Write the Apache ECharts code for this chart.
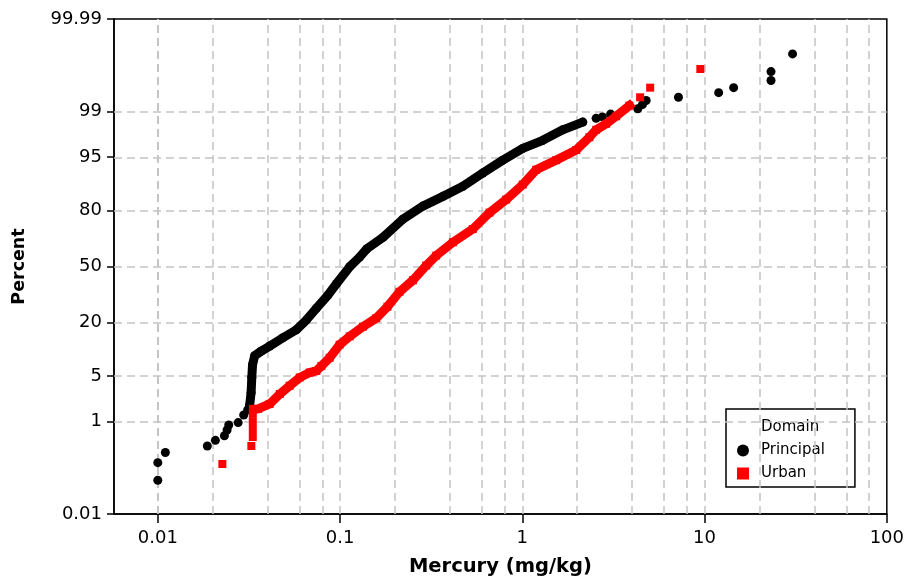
<!DOCTYPE html>
<html>
<head>
<meta charset="utf-8">
<script src="https://cdn.jsdelivr.net/npm/echarts@6/dist/echarts.min.js"></script>
<style>
html,body{margin:0;padding:0;background:#fff;}
#chart{width:907px;height:582px;}
</style>
</head>
<body>
<div id="chart"></div>
<script>
// ---- data: [mercury mg/kg, cumulative percent] ----
const principalLow = [[0.01,0.066],[0.01,0.16],[0.011,0.26],[0.0187,0.35],[0.0207,0.45],[0.0232,0.55],[0.024,0.70],[0.0245,0.86],[0.0276,0.95],[0.0296,1.28],[0.0311,1.55]];
const principalRun = [[0.0319,1.84],[0.0325,2.9],[0.0328,4.8],[0.0331,7.0],[0.034,9.0],[0.037,10.2],[0.0411,11.6],[0.0486,14.2],[0.0576,17.1],[0.0654,21.1],[0.0741,26.5],[0.0855,33.2],[0.0958,39.9],[0.113,49.9],[0.128,55.6],[0.140,60.4],[0.172,66.9],[0.221,76.1],[0.285,81.8],[0.367,85.4],[0.472,88.6],[0.607,92.0],[0.782,94.5],[1.006,96.2],[1.295,97.1],[1.667,98.0],[2.146,98.5]];
const principalHigh = [[2.54,98.7],[2.75,98.77],[3.05,98.9],[4.30,99.11],[4.56,99.25],[4.78,99.37],[7.19,99.45],[11.95,99.55],[14.44,99.64],[23.15,99.74],[23.15,99.83],[30.4,99.93]];
const urbanLow = [[0.0226,0.15],[0.0326,0.35],[0.0332,0.52],[0.0332,0.73],[0.0332,1.01],[0.0332,1.38]];
const urbanRun = [[0.0336,1.60],[0.0355,1.62],[0.0411,1.95],[0.0467,2.77],[0.0529,3.66],[0.0601,4.77],[0.0681,5.55],[0.0741,5.84],[0.079,6.76],[0.0877,8.52],[0.0995,12.0],[0.113,14.7],[0.1335,18.3],[0.158,21.9],[0.182,27.3],[0.212,35.2],[0.251,41.8],[0.297,50.6],[0.337,56.5],[0.416,64.2],[0.535,71.3],[0.661,79.1],[0.816,84.3],[1.006,89.1],[1.192,92.7],[1.534,94.5],[1.975,96.0],[2.335,97.4],[2.542,98.0],[2.884,98.4],[3.272,98.8],[3.870,99.22]];
const urbanHigh = [[4.43,99.45],[5.03,99.64],[9.48,99.85]];

const yTickPercents = [0.01, 1, 5, 20, 50, 80, 95, 99, 99.99];
const yTickLabels = ['0.01','1','5','20','50','80','95','99','99.99'];
const yGridPercents = [1, 5, 20, 50, 80, 95, 99];
const xGridValues = [0.006,0.008,0.01,0.02,0.04,0.06,0.08,0.1,0.2,0.4,0.6,0.8,1,2,4,6,8,10,20,40,60,80];
const xMin = 0.00575, xMax = 100;

// normal-probability (probit) transform for the percent axis
function probit(p){
  const a=[-3.969683028665376e+01,2.209460984245205e+02,-2.759285104469687e+02,1.383577518672690e+02,-3.066479806614716e+01,2.506628277459239e+00];
  const b=[-5.447609879822406e+01,1.615858368580409e+02,-1.556989798598866e+02,6.680131310152283e+01,-1.328068155288572e+01];
  const c=[-7.784894002430293e-03,-3.223964580411365e-01,-2.400758277161838e+00,-2.549732539343734e+00,4.374664141464968e+00,2.938163982698783e+00];
  const d=[7.784695709041462e-03,3.224671290700398e-01,2.445134137142996e+00,3.754408661907416e+00];
  const pl=0.02425, ph=1-pl; let q,r;
  if(p<pl){q=Math.sqrt(-2*Math.log(p));return (((((c[0]*q+c[1])*q+c[2])*q+c[3])*q+c[4])*q+c[5])/((((d[0]*q+d[1])*q+d[2])*q+d[3])*q+1);}
  if(p<=ph){q=p-0.5;r=q*q;return (((((a[0]*r+a[1])*r+a[2])*r+a[3])*r+a[4])*r+a[5])*q/(((((b[0]*r+b[1])*r+b[2])*r+b[3])*r+b[4])*r+1);}
  q=Math.sqrt(-2*Math.log(1-p));return -(((((c[0]*q+c[1])*q+c[2])*q+c[3])*q+c[4])*q+c[5])/((((d[0]*q+d[1])*q+d[2])*q+d[3])*q+1);
}
const toZ = pct => probit(pct/100);
const conv = arr => arr.map(([x,p]) => [x, toZ(p)]);
const yTickZ = yTickPercents.map(toZ);
const yMin = toZ(0.01), yMax = toZ(99.99);

const FONT = 'DejaVu Sans';
const chart = echarts.init(document.getElementById('chart'), null, {renderer:'canvas'});
const option = {
  animation: false,
  backgroundColor: '#fff',
  grid: {left:114, right:19, top:19, bottom:66.5, show:true, borderColor:'#000', borderWidth:1.5, backgroundColor:'transparent'},
  xAxis: {
    type:'log', logBase:10, min:xMin, max:xMax,
    name:'Mercury (mg/kg)', nameLocation:'middle', nameGap:43,
    nameTextStyle:{fontFamily:FONT, fontSize:19.5, fontWeight:'bold', color:'#000'},
    axisLine:{show:true, onZero:false, lineStyle:{color:'#000', width:1.5}},
    axisTick:{show:true, length:9, lineStyle:{color:'#000', width:1.5}},
    axisLabel:{show:true, showMinLabel:false, margin:15, fontFamily:FONT, fontSize:18, color:'#000',
      formatter: v => { const e = Math.log10(v); if (Math.abs(e-Math.round(e))>1e-6) return ''; return String(+v.toPrecision(6)); }},
    splitLine:{show:false}, minorTick:{show:false}, minorSplitLine:{show:false}
  },
  yAxis: {
    type:'value', min:yMin, max:yMax,
    name:'Percent', nameLocation:'middle', nameGap:86, nameRotate:90,
    nameTextStyle:{fontFamily:FONT, fontSize:17.5, fontWeight:'bold', color:'#000'},
    axisLine:{show:true, onZero:false, lineStyle:{color:'#000', width:1.5}},
    axisTick:{show:true, length:7, customValues:yTickZ, lineStyle:{color:'#000', width:1.5}},
    axisLabel:{show:true, margin:12, customValues:yTickZ, fontFamily:FONT, fontSize:18, color:'#000',
      formatter: v => { let bi=0, bd=1e9; yTickZ.forEach((z,i)=>{const dd=Math.abs(z-v); if(dd<bd){bd=dd;bi=i;}}); return yTickLabels[bi]; }},
    splitLine:{show:false}
  },
  legend: {
    left:726, top:409, orient:'vertical', selectedMode:false,
    padding:[11,30,6,4], itemWidth:26, itemHeight:12, itemGap:8,
    symbolKeepAspect:true,
    borderColor:'#000', borderWidth:1.5, backgroundColor:'#fff',
    textStyle:{fontFamily:FONT, fontSize:15, color:'#000'},
    data:[
      {name:'Domain', icon:'none'},
      {name:'Principal', icon:'circle', itemStyle:{color:'#000', opacity:1}},
      {name:'Urban', icon:'path://M0,0L10,0L10,10L0,10Z', itemStyle:{color:'#ff0000', opacity:1}}
    ]
  },
  series: [
    {
      name:'grid', type:'scatter', data:[], silent:true, z:1,
      markLine:{
        silent:true, symbol:['none','none'], label:{show:false},
        lineStyle:{color:'#c4c4c4', type:[8,5], width:1.5},
        emphasis:{disabled:true},
        data:[...xGridValues.map(v=>({xAxis:v})), ...yGridPercents.map(p=>({yAxis:toZ(p)}))]
      }
    },
    {name:'Domain', type:'scatter', data:[]},
    {
      name:'Principal', type:'scatter', z:12, symbol:'circle', symbolSize:9,
      itemStyle:{color:'#000', opacity:1},
      data: conv([...principalLow, ...principalRun, ...principalHigh])
    },
    {
      name:'Principal', type:'line', z:11, showSymbol:false, symbol:'none',
      lineStyle:{color:'#000', width:9, cap:'round', join:'round', opacity:1}, itemStyle:{color:'#000'},
      data: conv(principalRun)
    },
    {
      name:'Urban', type:'scatter', z:14, symbol:'rect', symbolSize:8,
      itemStyle:{color:'#ff0000', opacity:1},
      data: conv([...urbanLow, ...urbanRun, ...urbanHigh])
    },
    {
      name:'Urban', type:'line', z:13, showSymbol:false, symbol:'none',
      lineStyle:{color:'#ff0000', width:9, cap:'square', join:'miter', opacity:1}, itemStyle:{color:'#ff0000'},
      data: conv(urbanRun)
    }
  ]
};
chart.setOption(option);
</script>
</body>
</html>
